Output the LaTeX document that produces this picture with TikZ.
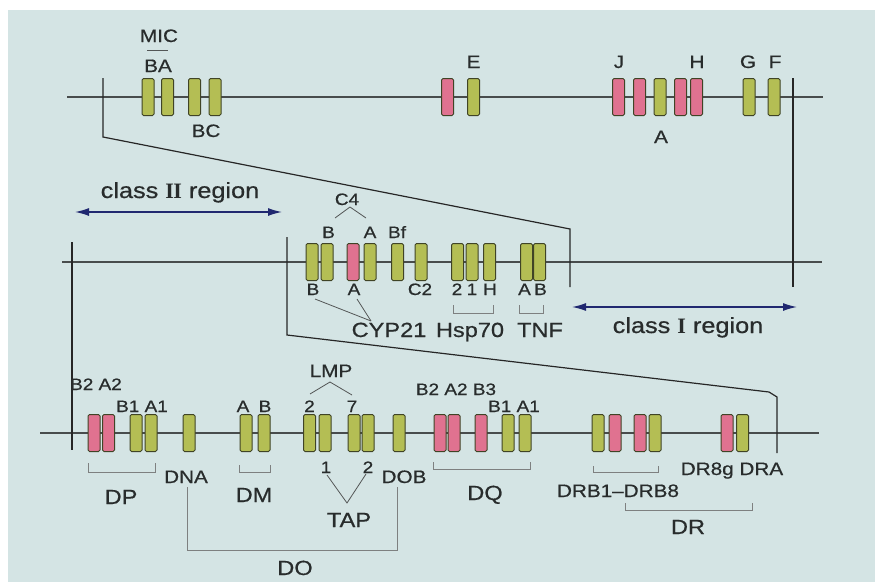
\documentclass[tikz,border=0pt]{standalone}
\usepackage{fontspec}
\setmainfont{Liberation Sans}[FakeStretch=1.15, FakeBold=0.6]
\newfontfamily\numfont{Liberation Serif}
\usepackage{xcolor}
\usetikzlibrary{arrows.meta, positioning}

\definecolor{paper}{RGB}{212,228,228}
\definecolor{genegreen}{RGB}{180,190,84}
\definecolor{genepink}{RGB}{224,114,144}
\definecolor{geneline}{RGB}{64,68,38}
\definecolor{inkgray}{RGB}{40,44,44}
\definecolor{navy}{RGB}{32,40,112}

\newcommand{\romtwo}{{\numfont\bfseries I\kern-0.6pt I}}
\newcommand{\romone}{{\numfont\bfseries I}}

\tikzset{
  gene/.style={rectangle, draw=geneline, line width=1pt, rounded corners=1.5pt,
               minimum width=12pt, minimum height=37pt, inner sep=0pt},
  chrom/.style={draw=inkgray!85, line width=1.8pt},
  zoomline/.style={draw=black!85, line width=1.2pt},
  bracketline/.style={draw=inkgray!60, line width=1pt},
  caretline/.style={draw=inkgray!80, line width=0.8pt},
  genelbl/.style={font=\fontsize{16.5}{16.5}\selectfont, text=inkgray,
                  inner sep=0pt, anchor=base},
  toplbl/.style={font=\fontsize{18}{18}\selectfont, text=inkgray,
                 inner sep=0pt, anchor=base},
  grouplbl/.style={font=\fontsize{20.5}{20.5}\selectfont, text=inkgray,
                   inner sep=0pt, anchor=base},
  regionlbl/.style={font=\fontsize{22}{22}\selectfont, text=inkgray,
                    inner sep=0pt, anchor=base},
  regionarrow/.style={{Latex[length=14pt,width=8pt]}-{Latex[length=14pt,width=8pt]},
                      draw=navy, line width=1.4pt},
}

\begin{document}
\begin{tikzpicture}[x=1pt, y=-1pt]
  % --- Frame ---
  \useasboundingbox (0,0) rectangle (875,581);
  \fill[white] (0,0) rectangle (875,581);
  \fill[paper] (8,10) rectangle (876,582);

  % --- Chromosome lines ---
  \coordinate (topW) at (67,97);  \coordinate (topE) at (823,97);
  \coordinate (midW) at (62,262); \coordinate (midE) at (822,262);
  \coordinate (botW) at (40,433); \coordinate (botE) at (819,433);
  \draw[chrom] (topW) -- (topE);
  \draw[chrom] (midW) -- (midE);
  \draw[chrom] (botW) -- (botE);

  % --- Zoom lines ---
  \coordinate (zA1) at (103,78);
  \coordinate (zA2) at (103,137);
  \coordinate (zA3) at (570,229);
  \coordinate (zA4) at (570,287);
  \draw[zoomline] (zA1) -- (zA2) -- (zA3) -- (zA4);
  \coordinate (zB1) at (793,78);
  \coordinate (zB2) at (793,287);
  \draw[zoomline] (zB1) -- (zB2);
  \coordinate (zC1) at (72,242);
  \coordinate (zC2) at (72,450);
  \draw[zoomline] (zC1) -- (zC2);
  \coordinate (zD1) at (287,237);
  \coordinate (zD2) at (287,335);
  \coordinate (zD3) at (769,392);
  \coordinate (zD4) at (777,397);
  \coordinate (zD5) at (777,453);
  \draw[zoomline] (zD1) -- (zD2) -- (zD3) -- (zD4) -- (zD5);

  % --- Class I genes ---
  \foreach \x/\c/\n in {148/genegreen/MICB, 167.5/genegreen/MICA,
      194.5/genegreen/B, 215/genegreen/C, 447.5/genepink/Ep, 473.5/genegreen/E,
      618.5/genepink/J, 639.5/genepink/Jp, 660/genegreen/A, 680.5/genepink/Hp,
      696.5/genepink/H, 749/genegreen/G, 774/genegreen/F}
    \node[gene, fill=\c] (t\n) at (\x,97) {};

  % --- Class III genes ---
  \foreach \x/\c/\n in {312/genegreen/CYPB, 327/genegreen/CFB, 353/genepink/CYPA,
      370/genegreen/CFA, 397.5/genegreen/Bf, 421/genegreen/CII,
      457.5/genegreen/HspII, 472/genegreen/HspI, 489.5/genegreen/HspH,
      526.5/genegreen/TNFA, 539.5/genegreen/TNFB}
    \node[gene, fill=\c] (m\n) at (\x,262) {};

  % --- Class II genes ---
  \foreach \x/\c/\n in {94/genepink/DPBb, 108.5/genepink/DPAb, 136/genegreen/DPBa,
      151/genegreen/DPAa, 189/genegreen/DNA, 246/genegreen/DMA, 264/genegreen/DMB,
      309.5/genegreen/LMPb, 325/genegreen/TAPa, 354/genegreen/LMPg,
      368/genegreen/TAPb, 399/genegreen/DOB, 440/genepink/DQBb,
      454/genepink/DQAb, 481/genepink/DQBc, 508/genegreen/DQBa,
      525/genegreen/DQAa, 598/genegreen/DRa, 615/genepink/DRb,
      640/genepink/DRc, 655/genegreen/DRd, 727/genepink/DRBg,
      742.5/genegreen/DRA}
    \node[gene, fill=\c] (b\n) at (\x,433) {};

  % --- Class I labels ---
  \node[toplbl] (lMIC) at (159,42) {MIC};
  \node[toplbl] (lBA) at (158,72) {BA};
  \node[toplbl] (lBC) at (206,137) {BC};
  \node[toplbl] (lE) at (473.5,68) {E};
  \node[toplbl] (lJ) at (619,68) {J};
  \node[toplbl] (lA) at (661,143) {A};
  \node[toplbl] (lH) at (697,68) {H};
  \node[toplbl] (lG) at (748,68) {G};
  \node[toplbl] (lF) at (775,68) {F};
  \coordinate (micW) at (147,50); \coordinate (micE) at (168,50);
  \draw[caretline] (micW) -- (micE);

  % --- Class III labels ---
  \node[genelbl] (lC4) at (347,205) {C4};
  \node[genelbl] (lCFB) at (328.5,238) {B};
  \node[genelbl] (lCFA) at (370,238) {A};
  \node[genelbl] (lBf) at (397,238) {Bf};
  \node[genelbl] (lCYPB) at (313,295) {B};
  \node[genelbl] (lCYPA) at (354,295) {A};
  \node[genelbl] (lCII) at (420,295) {C2};
  \node[genelbl] (lHspII) at (457,295) {2};
  \node[genelbl] (lHspI) at (472,295) {1};
  \node[genelbl] (lHspH) at (490,295) {H};
  \node[genelbl] (lTNFA) at (524.5,295) {A};
  \node[genelbl] (lTNFB) at (540.5,295) {B};
  \node[grouplbl] (lCYP) at (389,337) {CYP21};
  \node[grouplbl] (lHsp) at (470,337) {Hsp70};
  \node[grouplbl] (lTNF) at (540,337) {TNF};
  \coordinate (cfL) at (335,218); \coordinate (cfT) at (350,207);
  \coordinate (cfR) at (366,218);
  \draw[caretline] (cfL) -- (cfT) -- (cfR);
  \coordinate (cypB) at (315,299); \coordinate (cypA) at (357,299);
  \coordinate (cypJ) at (371,321);
  \draw[caretline] (cypB) -- (cypJ);
  \draw[caretline] (cypA) -- (cypJ);

  % --- Class II labels ---
  \node[genelbl] (lDPb) at (96,390) {B2 A2};
  \node[genelbl] (lDPa) at (142,412) {B1 A1};
  \node[genelbl] (lDMA) at (243,412) {A};
  \node[genelbl] (lDMB) at (265,412) {B};
  \node[toplbl] (lLMP) at (331,377) {LMP};
  \node[genelbl] (lLMPb) at (309.5,412) {2};
  \node[genelbl] (lLMPg) at (352,412) {7};
  \node[genelbl] (lDQb) at (456,395) {B2 A2 B3};
  \node[genelbl] (lDQa) at (514,412) {B1 A1};
  \node[genelbl] (lTAPa) at (326,473) {1};
  \node[genelbl] (lTAPb) at (368,473) {2};
  \node[toplbl] (lDNA) at (186,483) {DNA};
  \node[toplbl] (lDOB) at (404,483) {DOB};
  \node[grouplbl] (lDP) at (121,504) {DP};
  \node[grouplbl] (lDM) at (254,502) {DM};
  \node[grouplbl] (lDQ) at (485,500) {DQ};
  \node[grouplbl] (lTAP) at (349,527) {TAP};
  \node[grouplbl] (lDO) at (295,575) {DO};
  \node[toplbl] (lDRB) at (618,497) {DRB1--DRB8};
  \node[toplbl] (lDRA) at (732,475) {DR8g DRA};
  \node[grouplbl] (lDR) at (688,534) {DR};
  \coordinate (lmpL) at (310,394); \coordinate (lmpT) at (330,382);
  \coordinate (lmpR) at (352,395);
  \draw[caretline] (lmpL) -- (lmpT) -- (lmpR);
  \coordinate (tapL) at (327,475); \coordinate (tapB) at (347,503);
  \coordinate (tapR) at (366,474);
  \draw[caretline] (tapL) -- (tapB) -- (tapR);

  % --- Brackets ---
  \foreach \n/\xa/\xb/\ya/\yb in {dp/88/155/463/472, dm/239/270/465/472,
      dq/433/530/462/469, drb/593/658/466/472, dr/625/752/503/510,
      hsp/453/493/305/313, tnf/519/543/305/313, do/187/397/487/550} {
    \coordinate (\n-nw) at (\xa,\ya); \coordinate (\n-sw) at (\xa,\yb);
    \coordinate (\n-se) at (\xb,\yb); \coordinate (\n-ne) at (\xb,\ya);
    \draw[bracketline] (\n-nw) -- (\n-sw) -- (\n-se) -- (\n-ne);
  }

  % --- Region arrows ---
  \coordinate (twoW) at (75,212); \coordinate (twoE) at (282,212);
  \draw[regionarrow] (twoW) -- (twoE);
  \node[regionlbl] (lClassII) at (180,198) {class \romtwo\ region};
  \coordinate (oneW) at (572,307); \coordinate (oneE) at (797,307);
  \draw[regionarrow] (oneW) -- (oneE);
  \node[regionlbl] (lClassI) at (688,333) {class \romone\ region};
\end{tikzpicture}
\end{document}
